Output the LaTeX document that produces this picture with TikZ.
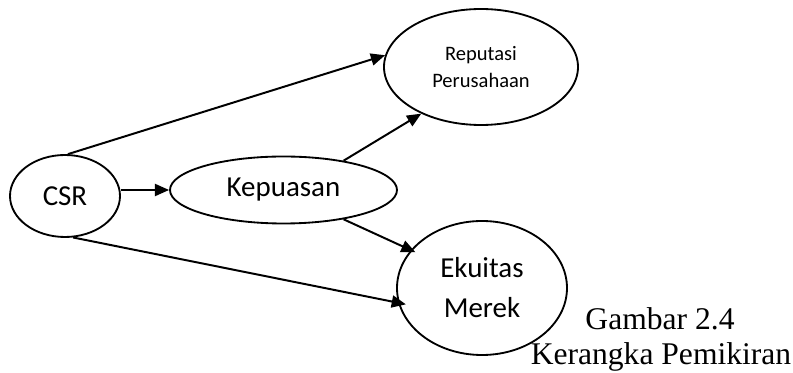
\documentclass[tikz,border=0pt]{standalone}
\usepackage{fontspec}
\setmainfont{Liberation Serif}
\newfontfamily\nodefont{Carlito}
\usetikzlibrary{shapes.geometric,arrows.meta}
\begin{document}
\begin{tikzpicture}[x=0.38pt,y=-0.38pt,
  bubble/.style={draw, ellipse, line width=0.7pt, inner sep=0pt, align=center,
    font=\nodefont\fontsize{11}{15.2}\selectfont},
  smallbubble/.style={bubble, font=\nodefont\fontsize{7.8}{10.3}\selectfont},
  link/.style={-{Triangle[length=5.4pt,width=4.6pt]}, line width=0.75pt},
  caption/.style={anchor=base, inner sep=0pt, font=\fontsize{12}{14}\selectfont}]
\useasboundingbox (0,0) rectangle (793,373);

% variables
\node[bubble, minimum width=110*0.38pt, minimum height=82*0.38pt] (csr) at (65,196) {CSR};
\node[bubble, minimum width=227*0.38pt, minimum height=67*0.38pt] (kep) at (283.5,190) {Kepuasan};
\node[smallbubble, minimum width=194*0.38pt, minimum height=116*0.38pt] (rep) at (481,67) {Reputasi\\Perusahaan};
\node[bubble, minimum width=170*0.38pt, minimum height=134*0.38pt] (eku) at (482,288) {Ekuitas\\Merek};

% relations
\draw[link] (csr.86) -- (rep.173);
\draw[link] (csr.east |- kep.west) -- (kep.west);
\draw[link] (kep.26) -- (rep.218);
\draw[link, shorten >=-2pt] (kep.-26) -- (eku.152);
\draw[link, shorten >=-3pt] (csr.-79) -- (eku.190.6);

% caption
\node[caption] (fignum) at (660,330) {Gambar 2.4};
\node[caption] (figtitle) at (661,365) {Kerangka Pemikiran};
\end{tikzpicture}
\end{document}
